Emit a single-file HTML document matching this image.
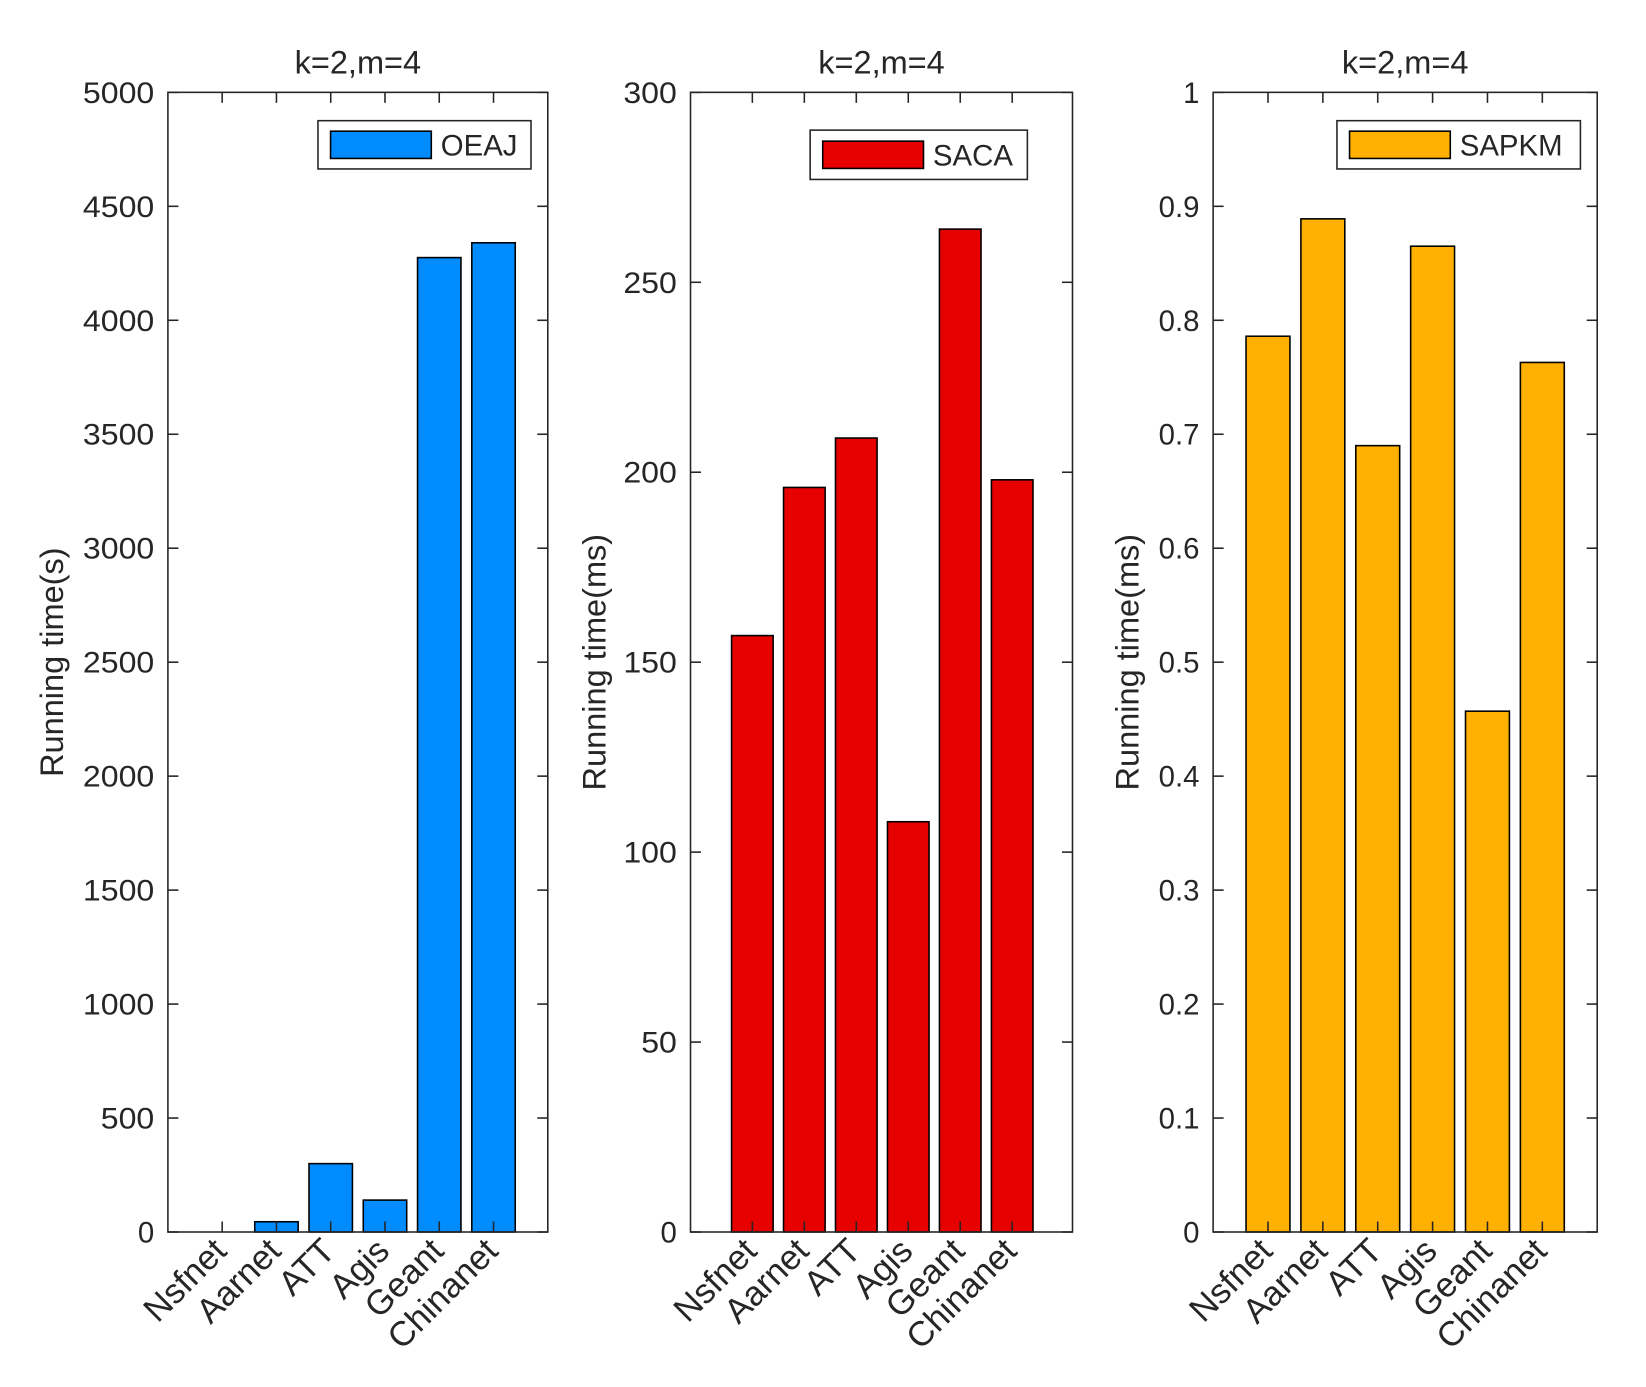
<!DOCTYPE html>
<html><head><meta charset="utf-8"><style>
html,body{margin:0;padding:0;background:#fff;}
svg{display:block;}
text{font-family:"Liberation Sans",Arial,sans-serif;fill:#262626;}
</style></head><body>
<svg id="chart" width="1646" height="1387" viewBox="0 0 1568.5 1321.7" preserveAspectRatio="none" xmlns="http://www.w3.org/2000/svg"></svg>
<script>
const categories = ["Nsfnet","Aarnet","ATT","Agis","Geant","Chinanet"];
const oeajValues = [0, 45, 300, 140, 4275, 4340];
const sacaValues = [157, 196, 209, 108, 264, 198];
const sapkmValues = [0.786, 0.889, 0.69, 0.865, 0.457, 0.763];
const oeajTicks = [0,500,1000,1500,2000,2500,3000,3500,4000,4500,5000];
const sacaTicks = [0,50,100,150,200,250,300];
const sapkmTicks = [0,0.1,0.2,0.3,0.4,0.5,0.6,0.7,0.8,0.9,1];

const NS = "http://www.w3.org/2000/svg";
const svg = document.getElementById('chart');
function mk(tag, attrs, parent){
  const e = document.createElementNS(NS, tag);
  for (const k in attrs) e.setAttribute(k, attrs[k]);
  (parent||svg).appendChild(e);
  return e;
}
const panels = [
  {key:'oeaj', vals:oeajValues, ticks:oeajTicks, ymax:5000, x0:160, x1:522, xmin:0, xmax:7, color:'#008cff', name:'OEAJ', ylabel:'Running time(s)', ylx:48, leg:[303,115,506,161]},
  {key:'saca', vals:sacaValues, ticks:sacaTicks, ymax:300, x0:658, x1:1022, xmin:-0.19, xmax:7.16, color:'#e60000', name:'SACA', ylabel:'Running time(ms)', ylx:565, leg:[772,124,979,171]},
  {key:'sapkm', vals:sapkmValues, ticks:sapkmTicks, ymax:1, x0:1156, x1:1522, xmin:0, xmax:7, color:'#ffb000', name:'SAPKM', ylabel:'Running time(ms)', ylx:1073, leg:[1274,115,1506,161]}
];
const Y0 = 1174, Y1 = 88;
panels.forEach(p => {
  const g = mk('g', {});
  
  
  const xs = v => p.x0 + (v - p.xmin) / (p.xmax - p.xmin) * (p.x1 - p.x0);
  const ys = v => Y0 - v / p.ymax * (Y0 - Y1);
  const bw = xs(0.8) - xs(0);
  p.vals.forEach((v, i) => {
    if (v <= 0) return;
    const r = mk('rect', {x: xs(i+1) - bw/2, y: ys(v), width: bw, height: Y0 - ys(v), fill: p.color, stroke: '#000', 'stroke-width': 1.5}, g);
    
    
  });
  const box = mk('rect', {x: p.x0, y: Y1, width: p.x1 - p.x0, height: Y0 - Y1, fill: 'none', stroke: '#262626', 'stroke-width': 1.5}, g);
  
  
  p.ticks.forEach(t => {
    const y = ys(t);
    mk('line', {x1: p.x0, x2: p.x0 + 10, y1: y, y2: y, stroke: '#262626', 'stroke-width': 1.5}, g);
    mk('line', {x1: p.x1, x2: p.x1 - 10, y1: y, y2: y, stroke: '#262626', 'stroke-width': 1.5}, g);
    const s = String(t);
    const attrs = {x: p.x0 - 13, y: y + 10, 'text-anchor': 'end', 'font-size': 28};
    if (s.length > 1 && s.indexOf('.') < 0) { attrs.textLength = s.length * 17; attrs.lengthAdjust = 'spacingAndGlyphs'; }
    const tl = mk('text', attrs, g);
    tl.textContent = s;
    
    
  });
  categories.forEach((c, i) => {
    const x = xs(i+1);
    mk('line', {x1: x, x2: x, y1: Y0, y2: Y0 - 10, stroke: '#262626', 'stroke-width': 1.5}, g);
    mk('line', {x1: x, x2: x, y1: Y1, y2: Y1 + 10, stroke: '#262626', 'stroke-width': 1.5}, g);
    const tl = mk('text', {x: 0, y: 0, 'text-anchor': 'end', 'font-size': 33, transform: 'translate(' + (x + 6) + ',' + (Y0 + 20) + ') rotate(-45)'}, g);
    tl.textContent = c;
    
    
  });
  const tt = mk('text', {x: (p.x0 + p.x1)/2, y: 70, 'text-anchor': 'middle', 'font-size': 31, fill: '#000'}, g);
  tt.textContent = 'k=2,m=4';
  
  
  const yl = mk('text', {x: 0, y: 0, 'text-anchor': 'middle', 'font-size': 31, transform: 'translate(' + (p.ylx + 12) + ',' + ((Y0 + Y1)/2) + ') rotate(-90)'}, g);
  yl.textContent = p.ylabel;
  
  
  const [lx0, ly0, lx1, ly1] = p.leg;
  const lg = mk('g', {}, g);
  
  
  mk('rect', {x: lx0, y: ly0, width: lx1 - lx0, height: ly1 - ly0, fill: '#fff', stroke: '#262626', 'stroke-width': 1.5}, lg);
  const ly = (ly0 + ly1)/2;
  mk('rect', {x: lx0 + 12, y: ly - 13, width: 96, height: 26, fill: p.color, stroke: '#000', 'stroke-width': 1.5}, lg);
  const lt = mk('text', {x: lx0 + 117, y: ly + 10, 'font-size': 28, fill: '#000'}, lg);
  lt.textContent = p.name;
  
  
});
</script>
</body></html>
